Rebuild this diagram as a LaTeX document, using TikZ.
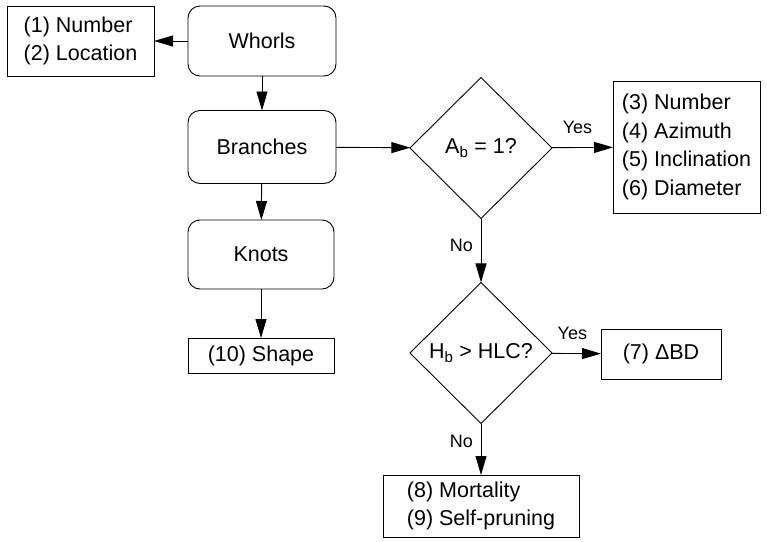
\documentclass[tikz,border=0pt]{standalone}
\usepackage{fontspec}
\setmainfont{Liberation Sans}
\usetikzlibrary{arrows.meta,shapes.geometric}
\begin{document}
\begin{tikzpicture}[x=1pt,y=-1pt,
  every node/.style={font=\fontsize{21.5}{28.5}\selectfont, inner sep=0pt, outer sep=0pt},
  rbox/.style={draw, rounded corners=12pt, line width=0.9pt},
  obox/.style={draw, line width=0.9pt, align=left},
  dec/.style={draw, diamond, line width=0.9pt, minimum width=142pt, minimum height=141pt},
  lbl/.style={font=\fontsize{18}{20}\selectfont, inner sep=3pt},
  flow/.style={line width=0.9pt, -{Triangle[length=19pt,width=11pt]}}]
\useasboundingbox (0,0) rectangle (767,541);

% process boxes
\node[rbox, minimum width=148pt, minimum height=70pt] (whorls) at (262,41) {Whorls};
\node[rbox, minimum width=148pt, minimum height=73pt] (branches) at (262,147) {Branches};
\node[rbox, minimum width=146pt, minimum height=69pt] (knots) at (261,254.5) {Knots};

% output boxes
\node[obox, minimum width=147pt, minimum height=70pt] (out12) at (80.5,41) {(1) Number\\(2) Location};
\node[obox, minimum width=146pt, minimum height=35pt] (shape) at (261,355.5) {(10) Shape};
\node[obox, minimum width=147pt, minimum height=132pt] (out36) at (686.5,147) {(3) Number\\(4) Azimuth\\(5) Inclination\\(6) Diameter};
\node[obox, minimum width=120pt, minimum height=50pt] (out7) at (661,354) {(7) ΔBD};
\node[obox, minimum width=196pt, minimum height=62pt] (out89) at (481,506) {(8) Mortality\\(9) Self-pruning};

% decisions
\node[dec] (ab) at (481,148) {A\textsubscript{b} = 1?};
\node[dec] (hb) at (481,353) {H\textsubscript{b} > HLC?};

% connectors
\draw[flow] (whorls) -- (out12);
\draw[flow] (whorls) -- (branches);
\draw[flow] (branches) -- (knots);
\draw[flow] (knots) -- (shape);
\draw[flow] (branches) -- (ab);
\draw[flow] (ab) -- node[lbl, above=11pt, pos=0.42] {Yes} (out36);
\draw[flow] (ab) -- node[lbl, left=5pt, pos=0.42] {No} (hb);
\draw[flow] (hb) -- node[lbl, above=11pt, pos=0.42] {Yes} (out7);
\draw[flow] (hb) -- node[lbl, left=5pt, pos=0.35] {No} (out89);
\end{tikzpicture}
\end{document}
